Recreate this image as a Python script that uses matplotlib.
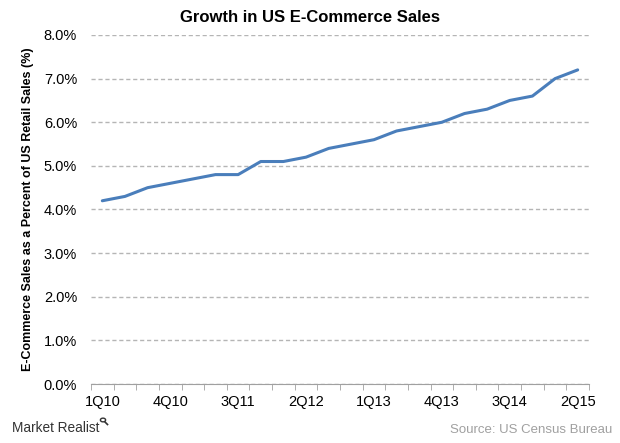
import matplotlib
matplotlib.use("Agg")
import matplotlib.pyplot as plt
import numpy as np
from matplotlib.ticker import MultipleLocator, FuncFormatter
from matplotlib.patches import Circle
from matplotlib.lines import Line2D

plt.rcParams['font.family'] = ['Liberation Sans', 'DejaVu Sans']

quarters = ['1Q10', '2Q10', '3Q10', '4Q10', '1Q11', '2Q11', '3Q11', '4Q11',
            '1Q12', '2Q12', '3Q12', '4Q12', '1Q13', '2Q13', '3Q13', '4Q13',
            '1Q14', '2Q14', '3Q14', '4Q14', '1Q15', '2Q15']
share = [4.2, 4.3, 4.5, 4.6, 4.7, 4.8, 4.8, 5.1, 5.1, 5.2, 5.4, 5.5,
         5.6, 5.8, 5.9, 6.0, 6.2, 6.3, 6.5, 6.6, 7.0, 7.2]

W, H = 620, 443
fig = plt.figure(figsize=(W / 100, H / 100), dpi=100)
ax = fig.add_axes([91 / W, 1 - 384 / H, 498 / W, 349 / H])

x = np.arange(len(quarters))
ax.plot(x, share, color='#4a7ebb', lw=2.2, solid_capstyle='round')

ax.set_xlim(-0.5, len(quarters) - 0.5)
ax.set_ylim(0, 8)
ax.yaxis.set_major_locator(MultipleLocator(1))
ax.yaxis.set_major_formatter(FuncFormatter(lambda v, p: f'{v:.1f}%'))
ax.yaxis.grid(True, color='#b5b5b5', ls=(0, (3, 2)), lw=1)
ax.set_axisbelow(True)

ax.set_xticks(x[::3])
ax.set_xticklabels(quarters[::3])
ax.set_xticks(np.arange(-0.5, len(quarters), 1), minor=True)
ax.tick_params(axis='x', which='major', length=0, pad=8, labelsize=10.5)
ax.tick_params(axis='x', which='minor', length=4, color='#a0a0a0', direction='out')
ax.tick_params(axis='y', length=0, pad=10, labelsize=10.5)

for s in ['top', 'right', 'left']:
    ax.spines[s].set_visible(False)
ax.spines['bottom'].set_color('#a0a0a0')

ax.set_ylabel('E-Commerce Sales as a Percent of US Retail Sales (%)',
              fontsize=9, fontweight='bold', labelpad=7)
fig.text(0.5, 1 - 17 / H, 'Growth in US E-Commerce Sales', ha='center', va='center',
         fontsize=12, fontweight='bold')

# footer: logo text + small magnifier mark
fig.text(12 / W, 1 - 428 / H, 'Market Realist', ha='left', va='center',
         fontsize=9.8, color='#333333')
fig.patches.append(Circle((103 / W, 1 - 420 / H), 2.6 / W, transform=fig.transFigure,
                          fill=False, ec='#333333', lw=1.0))
fig.lines.append(Line2D([105 / W, 107.5 / W], [1 - 422 / H, 1 - 424.5 / H],
                        transform=fig.transFigure, color='#333333', lw=1.2))
fig.text(612 / W, 1 - 430 / H, 'Source: US Census Bureau', ha='right', va='center',
         fontsize=9.5, color='#a0a0a0')

fig.savefig('out.png', dpi=100)
